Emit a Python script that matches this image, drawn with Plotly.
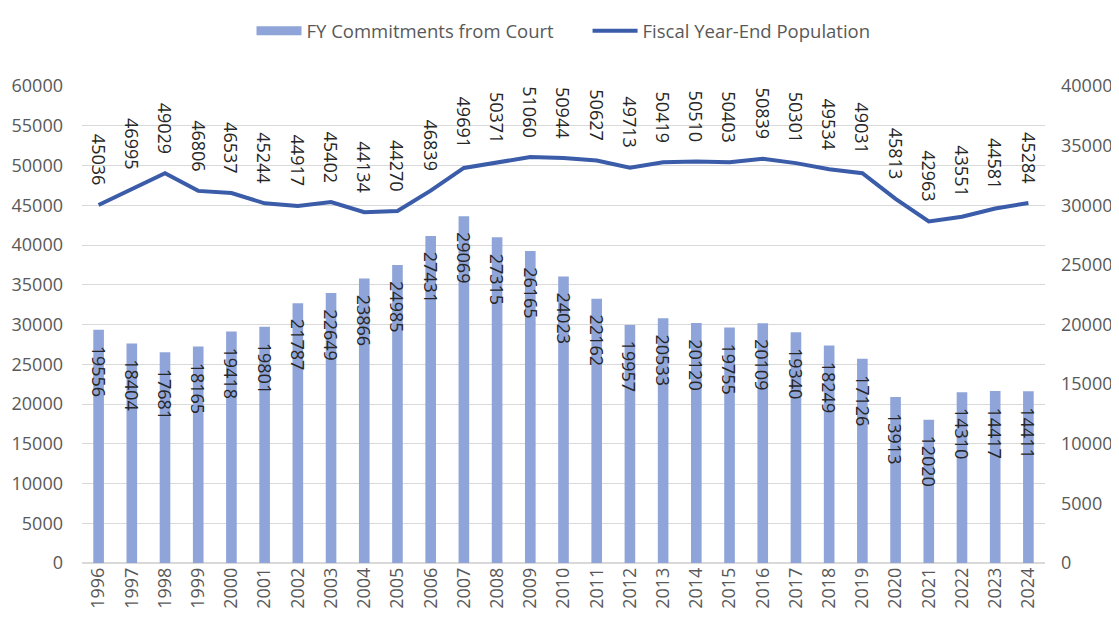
import plotly.graph_objects as go

years = list(range(1996, 2025))
commitments = [19556, 18404, 17681, 18165, 19418, 19801, 21787, 22649, 23866, 24985,
               27431, 29069, 27315, 26165, 24023, 22162, 19957, 20533, 20120, 19755,
               20109, 19340, 18249, 17126, 13913, 12020, 14310, 14417, 14411]
population = [45036, 46995, 49029, 46806, 46537, 45244, 44917, 45402, 44134, 44270,
              46839, 49691, 50371, 51060, 50944, 50627, 49713, 50419, 50510, 50403,
              50839, 50301, 49534, 49031, 45813, 42963, 43551, 44581, 45284]

BAR_COLOR = "#8fa4d8"
LINE_COLOR = "#3b5ca8"
FONT = "Open Sans"
TICK_COLOR = "#595959"
LABEL_COLOR = "#262626"

fig = go.Figure()
fig.add_trace(go.Bar(
    x=years, y=commitments, name="FY Commitments from Court",
    marker=dict(color=BAR_COLOR, line=dict(width=0)), width=0.32, yaxis="y2",
    showlegend=False,
))
# legend entry with a wide rectangular swatch, like the reference
fig.add_trace(go.Scatter(
    x=[None], y=[None], name="FY Commitments from Court" + "\u00a0" * 6, mode="lines",
    line=dict(color=BAR_COLOR, width=9), yaxis="y2", showlegend=True,
))
fig.add_trace(go.Scatter(
    x=years, y=population, name="Fiscal Year-End Population", mode="lines",
    line=dict(color=LINE_COLOR, width=4), yaxis="y",
))

for yr, v in zip(years, commitments):
    fig.add_annotation(
        x=yr, y=v, xref="x", yref="y2", text=str(v), showarrow=False,
        textangle=90, yanchor="top", xanchor="center", yshift=-14,
        font=dict(family=FONT, size=18, color=LABEL_COLOR),
    )
for yr, v in zip(years, population):
    fig.add_annotation(
        x=yr, y=v, xref="x", yref="y", text=str(v), showarrow=False,
        textangle=90, yanchor="bottom", xanchor="center", yshift=18,
        font=dict(family=FONT, size=18, color=LABEL_COLOR),
    )

fig.update_layout(
    width=1111, height=617,
    paper_bgcolor="white", plot_bgcolor="white",
    margin=dict(l=74, r=74, t=78, b=62, autoexpand=False),
    font=dict(family=FONT, size=18, color=TICK_COLOR),
    showlegend=True,
    legend=dict(orientation="h", x=0.5, xanchor="center", y=1.115, yanchor="middle",
                font=dict(family=FONT, size=18.5, color=TICK_COLOR), traceorder="normal",
                itemwidth=45),
    xaxis=dict(tickmode="array", tickvals=years, ticktext=[str(y) for y in years],
               tickangle=-90, showgrid=False, showline=False,
               ticks="", tickfont=dict(family=FONT, size=18, color=TICK_COLOR),
               range=[1995.5, 2024.5]),
    yaxis=dict(range=[0, 60000], dtick=5000, tickformat="d", side="left", showgrid=True,
               gridcolor="#d9d9d9", gridwidth=1, zeroline=True, zerolinecolor="#d9d9d9",
               showline=False, ticks="", ticklabelstandoff=18,
               tickfont=dict(family=FONT, size=18, color=TICK_COLOR)),
    yaxis2=dict(range=[0, 40000], dtick=5000, tickformat="d", side="right", overlaying="y",
                showgrid=False, zeroline=False, showline=False, ticks="",
                ticklabelstandoff=15,
                tickfont=dict(family=FONT, size=18, color=TICK_COLOR)),
)

fig.write_html("out.html")
